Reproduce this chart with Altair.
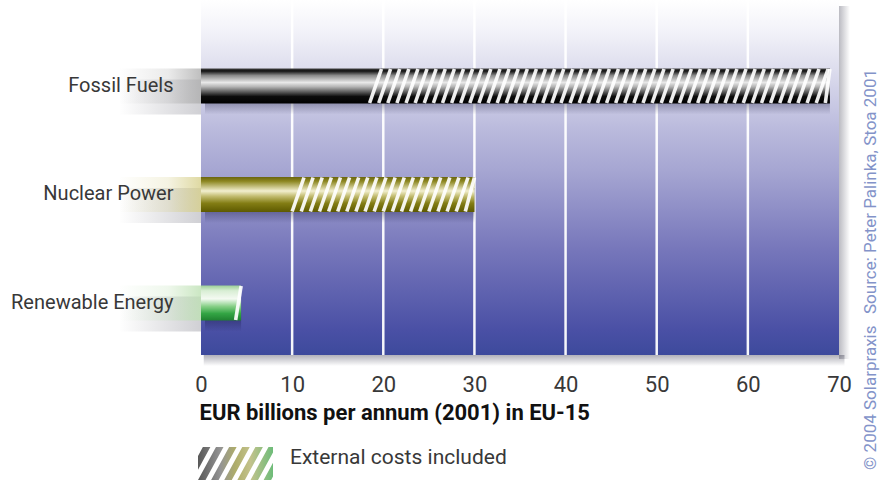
import altair as alt
import pandas as pd

# ---- data ----
sources = ["Fossil Fuels", "Nuclear Power", "Renewable Energy"]
internal_costs = [18.5, 10.0, 3.8]      # solid part of each bar
total_costs = [69.0, 30.0, 4.4]         # end of hatched part (external costs included)
x_ticks = [0, 10, 20, 30, 40, 50, 60, 70]
x_title = "EUR billions per annum (2001) in EU-15"
legend_label = "External costs included"
credit_lines = ["© 2004 Solarpraxis", "Source: Peter Palinka, Stoa 2001"]

df = pd.DataFrame({
    "source": sources,
    "internal": internal_costs,
    "total": total_costs,
    "legend": [legend_label] * len(sources),
})
ticks_df = pd.DataFrame({"tick": x_ticks})

# ---- styling ----
W, H = 638, 355
PAD_L, PAD_R, PAD_B = 201, 882 - 201 - 638, 481 - 355
FONT = "Roboto, Liberation Sans, sans-serif"


def grad(stops, horizontal=False):
    return alt.LinearGradient(
        gradient="linear",
        stops=[alt.GradientStop(color=c, offset=o) for o, c in stops],
        x1=0, y1=0, x2=1 if horizontal else 0, y2=0 if horizontal else 1,
    )


cyl = {
    "Fossil Fuels": [(0, "#444"), (0.07, "#111"), (0.2, "#8a8a8a"), (0.4, "#e8e8e8"),
                     (0.52, "#b5b5b5"), (0.68, "#555"), (0.8, "#0c0c0c"), (1, "#000")],
    "Nuclear Power": [(0, "#6a6510"), (0.12, "#8c8620"), (0.4, "#f2efcf"), (0.55, "#c2bc70"),
                      (0.75, "#837d14"), (1, "#5d5900")],
    "Renewable Energy": [(0, "#9ccf96"), (0.15, "#d8eed4"), (0.38, "#f4faf2"), (0.6, "#86cf86"),
                         (0.8, "#33a544"), (1, "#1f8030")],
}
ext_tint = {"Fossil Fuels": "rgba(175,175,175,", "Nuclear Power": "rgba(215,208,140,",
            "Renewable Energy": "rgba(190,225,180,"}

y_enc = alt.Y(
    "source:N", sort=sources,
    scale=alt.Scale(domain=sources, paddingInner=0.677, paddingOuter=0.4745, align=0.665),
    axis=alt.Axis(title=None, ticks=False, domain=False, labelFont=FONT, labelFontSize=20,
                  labelColor="#383838", labelPadding=28, labelLimit=0, zindex=1),
)
x_axis = alt.Axis(
    values=x_ticks, title=x_title, ticks=False, domain=False, grid=False,
    labelFont=FONT, labelFontSize=22, labelColor="#383838", labelPadding=19,
    labelFlush=False,
    titleFont=FONT, titleFontSize=22, titleFontWeight="bold", titleColor="#111111",
    titleAnchor="start", titleAlign="left", titleBaseline="alphabetic", titleX=-2, titleY=64,
    zindex=1,
)
x_scale = alt.Scale(domain=[0, 70], nice=False, zero=False)

base = alt.Chart(df)
extent = alt.Chart(ticks_df).transform_aggregate(lo="min(tick)", hi="max(tick)")

# plot-area background with its vertical colour fade
bg = extent.mark_rect(
    fill=grad([(0, "#ffffff"), (0.085, "#f3f3f9"), (0.17, "#e2e2f0"), (0.37, "#b9b9dc"),
               (0.48, "#a6a6d2"), (0.7, "#7777bb"), (0.93, "#4a50a5"), (1, "#3d4a9c")])
).encode(
    x=alt.X("lo:Q", scale=x_scale, axis=x_axis), x2="hi:Q",
    y=alt.value(0), y2=alt.value(H),
)
# soft drop shadow of the plot panel (right and bottom)
panel_shadow_r = extent.transform_calculate(a="datum.hi", b="datum.hi + 1.2").mark_rect(
    fill=grad([(0, "rgba(60,60,80,0.35)"), (1, "rgba(60,60,80,0)")], horizontal=True)
).encode(x=alt.X("a:Q", scale=x_scale, axis=x_axis), x2="b:Q", y=alt.value(6), y2=alt.value(H + 4))
panel_shadow_b = extent.transform_calculate(a="datum.lo + 0.3", b="datum.hi + 0.6").mark_rect(
    fill=grad([(0, "rgba(60,60,80,0.4)"), (1, "rgba(60,60,80,0)")])
).encode(x=alt.X("a:Q", scale=x_scale, axis=x_axis), x2="b:Q", y=alt.value(H), y2=alt.value(H + 11))

# white grid lines (not at the plot edges)
grid = alt.Chart(ticks_df).transform_filter("datum.tick > 0 && datum.tick < 70").mark_rule(
    color="white", strokeWidth=2.5, opacity=0.95
).encode(x=alt.X("tick:Q", scale=x_scale, axis=x_axis))


# legend swatch: diagonal stripes clipped to a box (unit coords, x in [-1, 1])
def clip_poly(pts, xmin, xmax):
    def clip(points, inside, inter):
        out = []
        for i in range(len(points)):
            cur, prev = points[i], points[i - 1]
            if inside(cur):
                if not inside(prev):
                    out.append(inter(prev, cur))
                out.append(cur)
            elif inside(prev):
                out.append(inter(prev, cur))
        return out

    def ix(xc):
        return lambda p, q: (xc, p[1] + (q[1] - p[1]) * (xc - p[0]) / (q[0] - p[0]))

    pts = clip(pts, lambda p: p[0] >= xmin, ix(xmin))
    if pts:
        pts = clip(pts, lambda p: p[0] <= xmax, ix(xmax))
    return pts


hh, sw, sl, pitch = 0.44, 0.2, 0.48, 0.35
parts = []
k = -3
while -1 + k * pitch < 1:
    a = -1 + k * pitch
    poly = clip_poly([(a, hh), (a + sw, hh), (a + sw + sl, -hh), (a + sl, -hh)], -1, 1)
    if len(poly) >= 3:
        parts.append("M" + " L".join(f"{px:.3f},{py:.3f}" for px, py in poly) + " Z")
    k += 1
stripe_path = " ".join(parts)

legend_layer = base.mark_point(
    filled=True, size=20,
    fill=grad([(0, "#111"), (0.3, "#666"), (0.5, "#8c8a2a"), (0.7, "#a9a85a"), (1, "#2f9f40")], horizontal=True),
).encode(
    x=alt.X("internal:Q", scale=x_scale, axis=x_axis),
    y=y_enc,
    shape=alt.Shape("legend:N", scale=alt.Scale(range=[stripe_path]), legend=alt.Legend(
        title=None, orient="none", legendX=-3, legendY=426, symbolSize=5625,
        labelFont=FONT, labelFontSize=21, labelColor="#383838", labelOffset=17,
        labelBaseline="alphabetic",
        symbolStrokeWidth=0, padding=0, labelLimit=0,
    )),
)

shadow = base.mark_bar(
    yOffset=11, xOffset=4,
    fill=grad([(0, "rgba(10,10,50,0.5)"), (0.6, "rgba(10,10,50,0.38)"), (1, "rgba(10,10,50,0)")]),
).transform_calculate(start="0").encode(
    x=alt.X("start:Q", scale=x_scale, axis=x_axis), x2="total:Q", y=y_enc,
)
ext_shadow = base.mark_bar(
    yOffset=11,
    fill=grad([(0, "rgba(40,40,60,0)"), (1, "rgba(40,40,60,0.22)")], horizontal=True),
).transform_calculate(start="-9", zero="0").encode(
    x=alt.X("start:Q", scale=x_scale, axis=x_axis), x2="zero:Q", y=y_enc,
)

layers = [bg, panel_shadow_r, panel_shadow_b, grid, legend_layer, shadow, ext_shadow]
for s in sources:
    t = ext_tint[s]
    ext = base.transform_filter(alt.datum.source == s).transform_calculate(start="-9", zero="0").mark_bar(
        fill=grad([(0, t + "0)"), (0.6, t + "0.25)"), (1, t + "0.8)")], horizontal=True)
    ).encode(x=alt.X("start:Q", scale=x_scale, axis=x_axis), x2="zero:Q", y=y_enc)
    bar = base.transform_filter(alt.datum.source == s).transform_calculate(zero="0").mark_bar(
        fill=grad(cyl[s])
    ).encode(x=alt.X("zero:Q", scale=x_scale, axis=x_axis), x2="total:Q", y=y_enc)
    layers += [ext, bar]

stripes = base.transform_calculate(
    s="sequence(datum.internal, datum.total, 1.0)"
).transform_flatten(["s"]).transform_calculate(
    s2="min(datum.s + 1.3, datum.total)"
).mark_rule(
    color="white", strokeWidth=3.6, opacity=0.92, yOffset=17, y2Offset=-17
).encode(
    x=alt.X("s:Q", scale=x_scale, axis=x_axis), x2="s2:Q", y=y_enc, y2=alt.Y2("source"),
)
layers.append(stripes)

credit_style = dict(angle=270, align="left", baseline="middle", font=FONT, fontSize=17, color="#8393c9")
credit_a = alt.Chart(pd.DataFrame({"text": [credit_lines[0]]})).mark_text(**credit_style).encode(
    text="text:N", x=alt.value(W + 32), y=alt.value(H + 115))
credit_b = alt.Chart(pd.DataFrame({"text": [credit_lines[1]]})).mark_text(**credit_style).encode(
    text="text:N", x=alt.value(W + 32), y=alt.value(H - 41))
layers += [credit_a, credit_b]

chart = alt.layer(*layers).properties(
    width=W, height=H,
    autosize=alt.AutoSizeParams(type="none"),
    padding={"left": PAD_L, "top": 0, "right": PAD_R, "bottom": PAD_B},
    background="white",
).configure_view(strokeOpacity=0)

chart.save("out.html", embed_options={"renderer": "svg", "actions": False})
